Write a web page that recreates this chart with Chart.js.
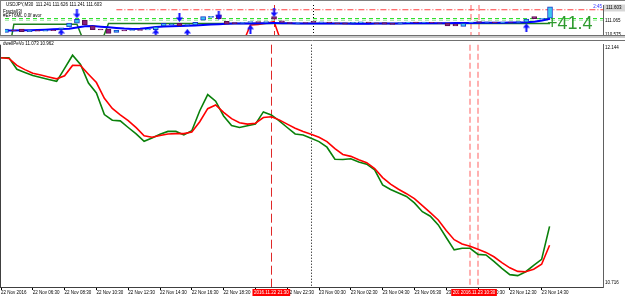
<!DOCTYPE html>
<html>
<head>
<meta charset="utf-8">
<script src="https://cdn.jsdelivr.net/npm/chart.js@4.4.1/dist/chart.umd.min.js"></script>
<style>
  html, body { margin: 0; padding: 0; background: #fff; }
  #wrap { position: relative; width: 625px; height: 298px; overflow: hidden; }
  canvas { position: absolute; left: 0; }
  #pricePane { top: 0; }
  #indPane { top: 40px; }
</style>
</head>
<body>
<div id="wrap">
  <canvas id="pricePane" width="625" height="40"></canvas>
  <canvas id="indPane" width="625" height="258"></canvas>
</div>
<script>
// 30 min bars, bar 0 = 22 Nov 04:30 ... bar 69 = 23 Nov 15:00
const timeLabels = ['22 Nov 2016', '22 Nov 06:30', '22 Nov 08:30', '22 Nov 10:30', '22 Nov 12:30',
  '22 Nov 14:30', '22 Nov 16:30', '22 Nov 18:30', '22 Nov 20:30', '22 Nov 22:30', '23 Nov 00:30',
  '23 Nov 02:30', '23 Nov 04:30', '23 Nov 06:30', '23 Nov 08:30', '23 Nov 10:30', '23 Nov 12:30',
  '23 Nov 14:30'];
const labelBars = [0, 4, 8, 12, 16, 20, 24, 28, 32, 36, 40, 44, 48, 52, 56, 60, 64, 68];

// vertical lines: red dashed, day separator, two pink ones
const markerBars = [34, 39, 59, 60];
const markerText = ['2016.11.22 21:30', '', '2016.11.23 10:00', '2016.11.23 10:30'];

// lower window "dwellPeVo"
const fastLine = [12.067, 12.067, 11.999, 11.980, 11.962, 11.951, 11.939, 11.928, 12.004, 12.082,
  12.028, 11.918, 11.860, 11.732, 11.699, 11.695, 11.656, 11.618, 11.575, 11.594,
  11.616, 11.633, 11.633, 11.612, 11.637, 11.755, 11.850, 11.811, 11.724, 11.668,
  11.656, 11.666, 11.676, 11.748, 11.730, 11.695, 11.656, 11.618, 11.612, 11.593,
  11.573, 11.540, 11.469, 11.467, 11.472, 11.453, 11.440, 11.407, 11.318, 11.291,
  11.270, 11.250, 11.212, 11.160, 11.133, 11.082, 11.008, 10.935, 10.944, 10.944,
  10.908, 10.905, 10.867, 10.826, 10.789, 10.783, 10.806, 10.844, 10.879, 11.073];
const slowLine = [12.067, 12.063, 12.022, 11.997, 11.976, 11.965, 11.954, 11.943, 11.961, 12.022,
  12.021, 11.970, 11.921, 11.828, 11.768, 11.731, 11.697, 11.655, 11.607, 11.599,
  11.609, 11.618, 11.620, 11.620, 11.629, 11.690, 11.767, 11.789, 11.745, 11.708,
  11.684, 11.676, 11.681, 11.715, 11.719, 11.701, 11.676, 11.652, 11.632, 11.616,
  11.598, 11.573, 11.531, 11.497, 11.486, 11.466, 11.449, 11.414, 11.361, 11.322,
  11.292, 11.266, 11.237, 11.196, 11.154, 11.111, 11.049, 10.995, 10.970, 10.956,
  10.938, 10.920, 10.894, 10.860, 10.829, 10.808, 10.806, 10.821, 10.850, 10.962];
const lowerTicks = [10.716, 12.144];

// main window, USDJPY M30
const candleOpen = [110.654, 110.742, 110.771, 110.683, 110.727, 110.698, 110.742, 110.756, 110.850, 110.985,
  111.084, 110.888, 110.771, 110.771, 110.654, 110.742, 110.727, 110.756, 110.742, 110.750,
  110.888, 110.932, 110.976, 110.903, 110.917, 111.084, 111.181, 111.277, 111.043, 111.005,
  110.976, 111.005, 111.034, 111.005, 111.210, 111.064, 111.005, 110.976, 111.005, 111.049,
  111.005, 111.020, 110.990, 110.996, 110.976, 110.996, 111.020, 110.990, 111.005, 110.976,
  110.961, 110.996, 111.020, 110.990, 111.014, 110.996, 110.985, 110.947, 110.867, 110.990,
  111.034, 111.005, 111.020, 110.996, 111.020, 111.005, 111.014, 111.210, 111.122, 111.160];
const candleClose = [110.771, 110.712, 110.683, 110.742, 110.698, 110.727, 110.718, 110.815, 110.985, 111.113,
  110.917, 110.750, 110.742, 110.624, 110.742, 110.712, 110.756, 110.727, 110.771, 110.850,
  110.976, 110.961, 110.888, 110.932, 111.014, 111.210, 111.225, 111.143, 110.947, 110.967,
  111.005, 111.034, 111.005, 111.034, 111.122, 111.005, 110.976, 110.996, 110.982, 111.005,
  111.026, 110.990, 110.967, 110.947, 111.014, 111.026, 110.990, 110.967, 110.947, 110.938,
  111.005, 111.020, 110.990, 111.020, 110.990, 110.976, 110.888, 110.888, 110.976, 111.020,
  111.005, 111.026, 110.996, 111.020, 111.005, 111.034, 111.122, 111.137, 111.151, 111.553];
const maLine = [110.721, 110.727, 110.733, 110.736, 110.742, 110.753, 110.765, 110.777, 110.788, 110.829,
  110.873, 110.879, 110.859, 110.835, 110.812, 110.791, 110.777, 110.786, 110.815, 110.844,
  110.868, 110.873, 110.879, 110.888, 110.900, 110.917, 110.935, 110.947, 110.958, 110.967,
  110.970, 110.973, 110.976, 110.982, 110.985, 110.982, 110.976, 110.970, 110.967, 110.967,
  110.967, 110.970, 110.970, 110.967, 110.964, 110.964, 110.964, 110.967, 110.970, 110.970,
  110.973, 110.976, 110.976, 110.976, 110.976, 110.979, 110.982, 110.985, 110.988, 110.991,
  110.993, 110.993, 110.996, 110.999, 111.002, 111.005, 111.011, 111.029, 111.078, 111.137];
const stepGreen = [109.400, 110.947, 110.947, 110.947, 110.947, 110.947, 110.947, 110.947, 110.947, 110.947,
  110.244, 110.244, 110.244, 110.967, 110.967, 110.967, 110.967, 110.967, 110.967, 110.967,
  110.967, 110.967, 110.967, 110.967, 110.967, 110.967, 110.967, 110.967, 110.967, 110.967,
  110.967, 110.967, 110.967, 110.967, 110.967, 110.967, 110.967, 110.967, 110.967, 110.967,
  110.967, 110.967, 110.967, 110.967, 110.967, 110.967, 110.967, 110.967, 110.967, 110.967,
  110.967, 110.967, 110.967, 110.967, 110.967, 110.967, 110.967, 110.967, 110.967, 110.967,
  110.967, 110.967, 110.967, 110.967, 110.967, 110.967, 110.967, 110.967, 110.967, 110.967];
const stepRedBars = [30, 31, 32, 33, 34, 35];
const stepRedValues = [110.244, 110.917, 110.932, 110.976, 111.034, 110.244];
const levelLines = [111.143, 111.084];
const trendLevel = 111.453;
const trendFromBar = 14;
const upArrowBars = [7, 19, 23, 31, 66];
const upArrowPrices = [110.624, 110.624, 110.624, 110.771, 110.820];
const downArrowBars = [9, 22, 27, 34];
const downArrowPrices = [111.307, 111.181, 111.260, 111.356];
const upperTicks = [110.575, 111.065];
const lastPrice = 111.603;
const pipText = '+41.4';
const timerText = '2:45';

Chart.defaults.font.family = "'Liberation Sans', Arial, sans-serif";
Chart.defaults.color = '#000';
Chart.defaults.animation = false;

const X_MIN = -0.126, X_MAX = 75.72;
const SMALL = 4.5;
const pts = arr => arr.map((v, i) => ({ x: i, y: v }));

function makeArrow(color) {
  const c = document.createElement('canvas');
  c.width = 7; c.height = 9;
  const g = c.getContext('2d');
  g.fillStyle = color;
  g.beginPath(); g.moveTo(3.5, 0); g.lineTo(7, 4.5); g.lineTo(0, 4.5); g.closePath(); g.fill();
  g.fillRect(2.5, 4, 2, 5);
  return c;
}
const arrowImg = makeArrow('#1010ff');

// dashed / dotted vertical lines, drawn under the data
function drawMarkers(chart) {
  const { ctx, chartArea: a, scales: { x } } = chart;
  ctx.save();
  markerBars.forEach((b, k) => {
    let px = Math.round(x.getPixelForValue(b));
    if (k === 0) { ctx.strokeStyle = '#e02828'; ctx.lineWidth = 1; ctx.setLineDash([9, 4]); px += 0.5; }
    else if (k === 1) { ctx.strokeStyle = '#000'; ctx.lineWidth = 1; ctx.setLineDash([1, 2]); px += 0.5; }
    else { ctx.strokeStyle = '#ffb0b0'; ctx.lineWidth = 2; ctx.setLineDash([6, 3]); }
    ctx.beginPath(); ctx.moveTo(px, a.top); ctx.lineTo(px, a.bottom); ctx.stroke();
  });
  ctx.restore();
}

const rightAxis = {
  position: 'right',
  afterFit: s => { s.width = 22; },
  grid: { display: false, drawTicks: false },
  border: { display: true, color: '#606060' },
  ticks: { padding: 2, font: { size: SMALL }, color: '#000' }
};

// ---------- top pane ----------
const pricePlugin = {
  id: 'pricePlugin',
  beforeDatasetsDraw: drawMarkers,
  afterDraw(chart) {
    const { ctx, chartArea: a, scales: { y } } = chart;
    ctx.save();
    ctx.strokeStyle = '#808080'; ctx.lineWidth = 1;
    ctx.beginPath(); ctx.moveTo(0, 0.5); ctx.lineTo(625, 0.5); ctx.stroke();
    ctx.beginPath(); ctx.moveTo(0.5, 0); ctx.lineTo(0.5, a.bottom); ctx.stroke();
    ctx.fillStyle = '#c8c8c8'; ctx.fillRect(0, a.bottom, 625, 3);
    ctx.strokeStyle = '#707070';
    ctx.beginPath(); ctx.moveTo(0, a.bottom + 0.5); ctx.lineTo(625, a.bottom + 0.5); ctx.stroke();

    ctx.font = SMALL + "px 'Liberation Sans'";
    ctx.textBaseline = 'middle'; ctx.textAlign = 'left';
    ctx.fillStyle = '#000';
    ctx.fillText('USDJPY,M30  111.241 111.626 111.241 111.603', 6, 5);
    ctx.fillText('Fractal(3)', 3, 11.5);
    ctx.fillText('#EFT6ML 0.0f avor', 3, 15.5);

    // current price box and timer
    const py = y.getPixelForValue(lastPrice);
    ctx.fillStyle = '#d6d6d6'; ctx.fillRect(a.right + 1, py - 1, 21, 7);
    ctx.fillStyle = '#000'; ctx.fillText(lastPrice.toFixed(3), a.right + 3, py + 2.5);
    ctx.fillStyle = '#2c2cff'; ctx.textAlign = 'right';
    ctx.fillText(timerText, a.right - 1, 7);

    ctx.textAlign = 'left'; ctx.textBaseline = 'alphabetic';
    ctx.font = "18px 'Liberation Sans'";
    ctx.fillStyle = '#2f9a2f';
    ctx.fillText(pipText, 547, 28.5);
    ctx.restore();
  }
};

new Chart(document.getElementById('pricePane'), {
  type: 'bar',
  data: {
    datasets: [
      {
        type: 'line', data: upArrowBars.map((b, i) => ({ x: b, y: upArrowPrices[i] })),
        showLine: false, pointStyle: arrowImg, pointRadius: 4, order: 0
      },
      {
        type: 'line', data: downArrowBars.map((b, i) => ({ x: b, y: downArrowPrices[i] })),
        showLine: false, pointStyle: arrowImg, pointRotation: 180, pointRadius: 4, order: 0
      },
      {
        type: 'bar',
        data: candleOpen.map((o, i) => ({ x: i, y: [o, candleClose[i]] })),
        backgroundColor: candleOpen.map((o, i) => candleClose[i] >= o ? '#3cc6f2' : '#8b1f7c'),
        borderColor: candleOpen.map((o, i) => candleClose[i] >= o ? '#1838c8' : '#5c0f52'),
        borderWidth: 1, borderSkipped: false, barThickness: 5, order: 1
      },
      {
        type: 'line', data: pts(maLine), borderColor: '#0000ff', borderWidth: 2,
        pointRadius: 0, tension: 0, order: 2
      },
      {
        type: 'line', data: pts(stepGreen), borderColor: '#1d7f1d', borderWidth: 1.5,
        pointRadius: 0, tension: 0, order: 3
      },
      {
        type: 'line', data: stepRedBars.map((b, i) => ({ x: b, y: stepRedValues[i] })),
        borderColor: '#ff0000', borderWidth: 1.5, pointRadius: 0, tension: 0, order: 3
      },
      {
        type: 'line', data: [{ x: X_MIN, y: levelLines[0] }, { x: X_MAX, y: levelLines[0] }],
        borderColor: '#22dd22', borderWidth: 1, borderDash: [4, 3], pointRadius: 0, order: 4
      },
      {
        type: 'line', data: [{ x: X_MIN, y: levelLines[1] }, { x: X_MAX, y: levelLines[1] }],
        borderColor: '#99e699', borderWidth: 1, borderDash: [4, 3], pointRadius: 0, order: 4
      },
      {
        type: 'line', data: [{ x: trendFromBar, y: trendLevel }, { x: X_MAX, y: trendLevel }],
        borderColor: '#ff4040', borderWidth: 1, borderDash: [6, 2, 1, 2], pointRadius: 0, order: 4
      }
    ]
  },
  options: {
    responsive: false,
    devicePixelRatio: 1,
    layout: { padding: { top: 1, bottom: 3, left: 0, right: 0 } },
    plugins: { legend: { display: false }, tooltip: { enabled: false } },
    scales: {
      x: { type: 'linear', min: X_MIN, max: X_MAX, bounds: 'data', offset: false, display: false },
      y: Object.assign({}, rightAxis, {
        type: 'linear', min: 110.566, max: 111.62, bounds: 'data',
        afterBuildTicks: s => { s.ticks = upperTicks.map(v => ({ value: v })); },
        ticks: Object.assign({}, rightAxis.ticks, { callback: v => v.toFixed(3) })
      })
    }
  },
  plugins: [pricePlugin]
});

// ---------- indicator pane + time axis ----------
const indPlugin = {
  id: 'indPlugin',
  beforeDatasetsDraw: drawMarkers,
  afterDraw(chart) {
    const { ctx, chartArea: a, scales: { x } } = chart;
    ctx.save();
    ctx.strokeStyle = '#707070'; ctx.lineWidth = 1;
    ctx.beginPath(); ctx.moveTo(0, 0.5); ctx.lineTo(625, 0.5); ctx.stroke();
    ctx.strokeStyle = '#404040';
    ctx.beginPath(); ctx.moveTo(0.5, a.top); ctx.lineTo(0.5, a.bottom); ctx.stroke();

    ctx.font = SMALL + "px 'Liberation Sans'";
    ctx.textBaseline = 'middle'; ctx.textAlign = 'left';
    ctx.fillStyle = '#000';
    ctx.fillText('dwellPeVo ' + fastLine[fastLine.length - 1].toFixed(3) + ' ' +
      slowLine[slowLine.length - 1].toFixed(3), 3, 4);

    // red time boxes on the axis for the marked bars
    ctx.textAlign = 'center';
    markerBars.forEach((b, k) => {
      const t = markerText[k];
      if (!t) return;
      const px = x.getPixelForValue(b);
      const w = ctx.measureText(t).width + 3;
      ctx.fillStyle = '#ff0000';
      ctx.fillRect(px - w / 2, a.bottom + 2, w, 7);
      ctx.fillStyle = '#fff';
      ctx.fillText(t, px, a.bottom + 5.6);
    });
    ctx.restore();
  }
};

new Chart(document.getElementById('indPane'), {
  type: 'line',
  data: {
    datasets: [
      { data: pts(slowLine), borderColor: '#ff0000', borderWidth: 1.6, pointRadius: 0, tension: 0, order: 0 },
      { data: pts(fastLine), borderColor: '#0a800a', borderWidth: 1.6, pointRadius: 0, tension: 0, order: 1 }
    ]
  },
  options: {
    responsive: false,
    devicePixelRatio: 1,
    layout: { padding: { top: 1, bottom: 0, left: 0, right: 0 } },
    plugins: { legend: { display: false }, tooltip: { enabled: false } },
    scales: {
      x: {
        type: 'linear', min: X_MIN, max: X_MAX, bounds: 'data', offset: false,
        afterFit: s => { s.height = 11; },
        afterBuildTicks: s => { s.ticks = labelBars.map(v => ({ value: v })); },
        grid: { display: true, drawOnChartArea: false, drawTicks: true, tickLength: 3, color: '#000' },
        border: { display: true, color: '#404040' },
        ticks: {
          autoSkip: false, maxRotation: 0, align: 'start', padding: 0,
          font: { size: SMALL }, color: '#000',
          callback: (v, i) => timeLabels[i]
        }
      },
      y: Object.assign({}, rightAxis, {
        type: 'linear', min: lowerTicks[0], max: lowerTicks[1], bounds: 'data',
        // labels sit just inside the window edges, as in the terminal
        afterBuildTicks: s => {
          const step = (s.max - s.min) / 246;
          s.ticks = [{ value: s.min + 4 * step }, { value: s.max - 3 * step }];
        },
        ticks: Object.assign({}, rightAxis.ticks, {
          callback: (v, i) => lowerTicks[i].toFixed(3)
        })
      })
    }
  },
  plugins: [indPlugin]
});
</script>
</body>
</html>
